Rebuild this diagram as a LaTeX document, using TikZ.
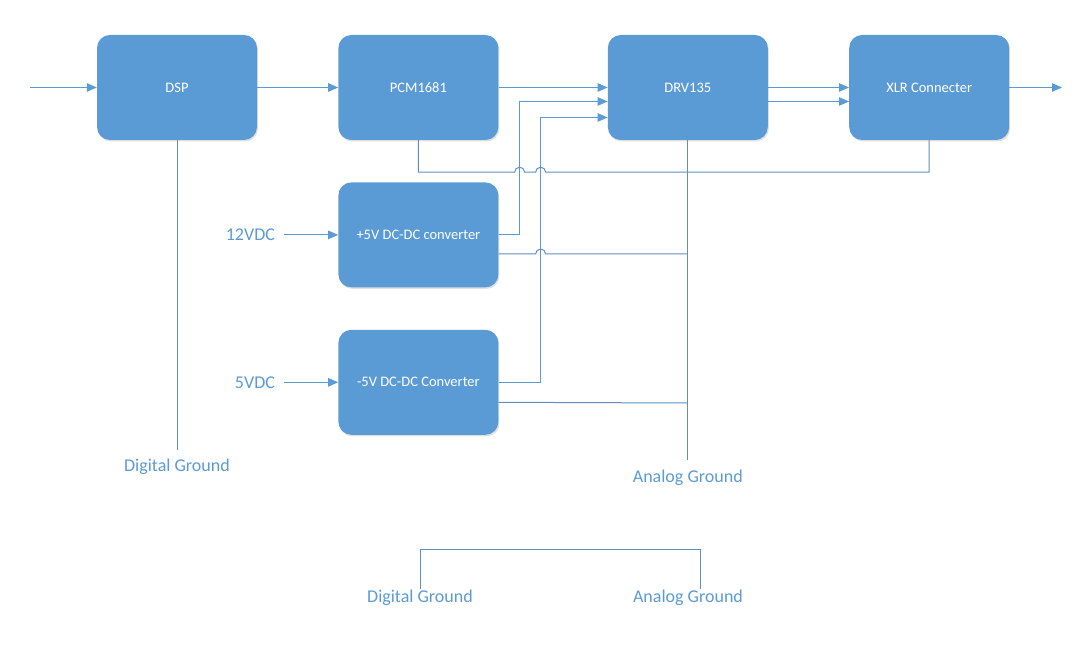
\documentclass[tikz,border=0pt]{standalone}
\usepackage{fontspec}
\setmainfont{Carlito}
\usepackage{xcolor}
\definecolor{boxblue}{HTML}{5B9BD5}
\definecolor{wireblue}{HTML}{5F8FC0}
\definecolor{textblue}{HTML}{5B9BD5}
\usetikzlibrary{arrows.meta,positioning,calc,shadows}

\begin{document}
\begin{tikzpicture}[
  x=1pt, y=1pt,
  blk/.style={draw=none, fill=boxblue, rounded corners=13pt, text=white,
              minimum width=160pt, minimum height=105pt, inner sep=0pt,
              font=\fontsize{14.5}{16}\selectfont,
              drop shadow={shadow xshift=1pt, shadow yshift=-1.5pt,
                           opacity=0.25, fill=black!50}},
  lbl/.style={text=textblue, inner sep=1pt, font=\fontsize{18}{20}\selectfont},
  wire/.style={draw=wireblue, line width=1pt},
  arr/.style={wire, -{Triangle[length=10pt, width=8.5pt]}, color=boxblue},
  hop/.style={start angle=180, end angle=0, radius=5pt}
]
\useasboundingbox (0,0) rectangle (1084,653);

% main signal chain
\node[blk] (dsp) at (177,565.5) {DSP};
\node[blk, right=81pt of dsp] (pcm) {PCM1681};
\node[blk, right=109pt of pcm] (drv) {DRV135};
\node[blk, right=81pt of drv] (xlr) {XLR Connecter};

% supplies
\node[blk, below=42pt of pcm] (pos) {+5V DC-DC converter};
\node[blk, below=42pt of pos] (neg) {-5V DC-DC Converter};
\node[lbl, left=62pt of pos] (v12) {12VDC};
\node[lbl, left=62pt of neg] (v5) {5VDC};

% ground labels
\coordinate (dgnd) at (dsp.south |- 0,203);
\coordinate (agnd) at (drv.south |- 0,193);
\node[lbl, below=8pt of dgnd] (dglbl) {Digital Ground};
\node[lbl, below=9pt of agnd] (aglbl) {Analog Ground};

% rails and hop points
\coordinate (in) at (30,565.5);
\coordinate (out) at (1062,565.5);
\coordinate (rail) at ($(drv.south)+(0,-32)$);
\coordinate (upA) at ($(pos.east)+(21,0)$);
\coordinate (upB) at ($(neg.east)+(42,0)$);

\draw[arr] (in) -- (dsp);
\draw[arr] (dsp) -- (pcm);
\draw[arr] (pcm) -- (drv);
\draw[arr] (drv) -- (xlr);
\draw[arr] ([yshift=-14pt]drv.east) -- ([yshift=-14pt]xlr.west);
\draw[arr] (xlr) -- (out);
\draw[arr, shorten <=8pt] (v12) -- (pos);
\draw[arr, shorten <=8pt] (v5) -- (neg);

\draw[arr] (pos.east) -- (upA) |- ([yshift=-14pt]drv.west);
\draw[arr] (neg.east) -- (upB) |- ([yshift=-30pt]drv.west);

\draw[wire] (pcm.south) |- ($(upA |- rail)+(-5,0)$) arc[hop]
  -- ($(upB |- rail)+(-5,0)$) arc[hop] -| (xlr.south);
\draw[wire] ([yshift=-19pt]pos.east) -- ($(upB |- 0,399)+(-5,0)$) arc[hop]
  -- (drv.south |- 0,399);
\draw[wire] ([yshift=-20pt]neg.east) -- (drv.south |- 0,250);

\draw[wire] (dsp.south) -- (dgnd);
\draw[wire] (drv.south) -- (agnd);

% ground tie
\node[lbl] (dgtie) at (420,55) {Digital Ground};
\node[lbl] (agtie) at (688,55) {Analog Ground};
\coordinate (tieR) at ([xshift=12pt]agtie.north);
\draw[wire] (dgtie.north) |- (tieR |- 0,103) -- (tieR);
\end{tikzpicture}
\end{document}
